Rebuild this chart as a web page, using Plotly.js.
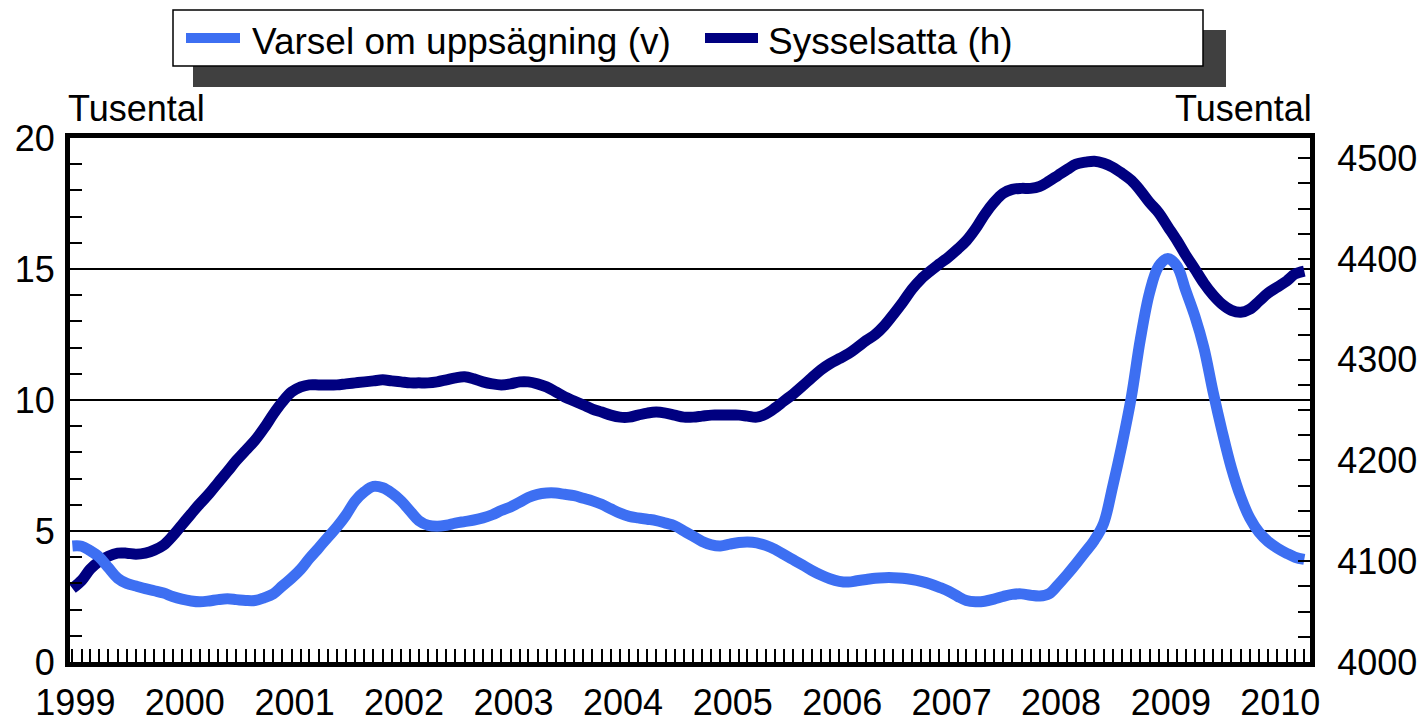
<!DOCTYPE html>
<html>
<head>
<meta charset="utf-8">
<script src="https://cdn.plot.ly/plotly-3.0.1.min.js"></script>
<style>html,body{margin:0;padding:0;background:#fff;}#chart{width:1426px;height:725px;}</style>
</head>
<body>
<div id="chart"></div>
<script>
// ---- data (monthly, Jan 1999 - Apr 2010) ----
const startYear = 1999;
const startMonth = 1;
const seriesNames = ["Varsel om uppsägning (v)", "Sysselsatta (h)"];
const yearLabels = ["1999","2000","2001","2002","2003","2004","2005","2006","2007","2008","2009","2010"];
// Varsel om uppsägning, tusental (left axis)
const varsel = [
 4.43,4.42,4.25,4.0,3.6,3.2,3.0,2.9,2.8,2.72,2.63,2.5,
 2.4,2.33,2.3,2.33,2.38,2.41,2.38,2.35,2.35,2.45,2.6,2.9,
 3.2,3.55,3.95,4.35,4.75,5.15,5.6,6.15,6.5,6.7,6.65,6.45,
 6.15,5.75,5.4,5.22,5.18,5.22,5.3,5.36,5.42,5.5,5.62,5.78,
 5.92,6.1,6.28,6.4,6.45,6.45,6.4,6.35,6.25,6.15,6.02,5.85,
 5.68,5.56,5.5,5.45,5.4,5.3,5.2,5.0,4.8,4.6,4.47,4.43,
 4.5,4.56,4.58,4.55,4.45,4.3,4.1,3.9,3.7,3.5,3.32,3.18,
 3.08,3.05,3.1,3.15,3.2,3.22,3.22,3.2,3.15,3.08,2.98,2.85,
 2.7,2.5,2.35,2.3,2.32,2.4,2.5,2.58,2.6,2.55,2.52,2.6,
 2.95,3.35,3.75,4.2,4.65,5.3,6.7,8.3,10.1,12.3,14.1,15.1,
 15.4,15.1,14.2,13.2,12.0,10.3,8.8,7.4,6.3,5.5,4.95,4.6,
 4.35,4.15,4.0,3.92
];
// Sysselsatta, tusental (right axis)
const sysselsatta = [
 4073,4081,4092,4100,4105,4108,4108,4107,4108,4111,4116,4125,
 4136,4147,4157,4167,4178,4189,4200,4210,4220,4232,4246,4258,
 4268,4273,4275,4275,4275,4275,4276,4277,4278,4279,4280,4279,
 4278,4277,4277,4277,4278,4280,4282,4283,4281,4278,4276,4275,
 4276,4278,4278,4276,4273,4268,4263,4259,4255,4251,4248,4245,
 4243,4243,4245,4247,4248,4247,4245,4243,4243,4244,4245,4245,
 4245,4245,4244,4243,4246,4252,4259,4266,4274,4282,4290,4296,
 4301,4306,4312,4319,4325,4334,4345,4357,4370,4380,4388,4395,
 4402,4410,4418,4430,4444,4456,4465,4469,4470,4470,4472,4477,
 4483,4489,4494,4496,4497,4495,4491,4485,4478,4468,4456,4446,
 4432,4418,4404,4390,4376,4364,4355,4349,4347,4350,4358,4366,
 4372,4378,4385,4388
];

// monthly dates
const months = [];
for (let i = 0; i < varsel.length; i++) {
  const m0 = startMonth - 1 + i;
  const y = startYear + Math.floor(m0 / 12);
  const m = (m0 % 12) + 1;
  months.push(y + "-" + String(m).padStart(2, "0") + "-01");
}
const yearTicks = yearLabels.map(y => y + "-01-01");

const LIGHT = "#3d6ff2";
const DARK = "#000080";
const FONT = "Arial, 'Liberation Sans', sans-serif";

// pixel -> paper helpers (layout only)
const L = 70, R = 116, T = 138, B = 63, W = 1426, H = 725;
const PW = W - L - R, PH = H - T - B;
const px = x => (x - L) / PW;
const py = y => (H - B - y) / PH;

const traces = [
  {
    x: months, y: sysselsatta, name: seriesNames[1], type: "scatter", mode: "lines",
    yaxis: "y", line: {color: DARK, width: 11, shape: "spline", smoothing: 1},
    showlegend: false, hoverinfo: "x+y"
  },
  {
    x: months, y: varsel, name: seriesNames[0], type: "scatter", mode: "lines",
    yaxis: "y2", line: {color: LIGHT, width: 11, shape: "spline", smoothing: 1},
    showlegend: false, hoverinfo: "x+y"
  }
];

const tickFont = {family: FONT, size: 36, color: "#000"};

const layout = {
  width: W, height: H,
  margin: {l: L, r: R, t: T, b: B, pad: 0},
  paper_bgcolor: "#fff", plot_bgcolor: "#fff",
  showlegend: false,
  font: {family: FONT, color: "#000"},
  xaxis: {
    type: "date",
    range: ["1998-12-24", "2010-04-20"],
    tickmode: "array", tickvals: yearTicks, ticktext: yearLabels,
    ticks: "inside", ticklen: 13, tickwidth: 2, tickcolor: "#000",
    minor: {dtick: "M1", tick0: "1999-01-01", ticks: "inside", ticklen: 13, tickwidth: 2, tickcolor: "#000", showgrid: false},
    showline: true, linewidth: 5, linecolor: "#000", mirror: true,
    showgrid: false, zeroline: false,
    tickfont: tickFont, ticklabelstandoff: 5, ticklabelshift: 3
  },
  yaxis: {
    side: "right",
    range: [4000, 4520],
    tick0: 4000, dtick: 100,
    ticks: "inside", ticklen: 12, tickwidth: 2, tickcolor: "#000",
    minor: {dtick: 25, tick0: 4000, ticks: "inside", ticklen: 12, tickwidth: 2, tickcolor: "#000", showgrid: false},
    showline: true, linewidth: 5, linecolor: "#000",
    showgrid: false, zeroline: false,
    tickfont: tickFont, ticklabelstandoff: 15
  },
  yaxis2: {
    overlaying: "y", side: "left",
    range: [0, 20],
    tick0: 0, dtick: 5,
    ticks: "inside", ticklen: 12, tickwidth: 2, tickcolor: "#000",
    minor: {dtick: 1, tick0: 0, ticks: "inside", ticklen: 12, tickwidth: 2, tickcolor: "#000", showgrid: false},
    showline: true, linewidth: 5, linecolor: "#000",
    showgrid: true, gridcolor: "#000", gridwidth: 2, zeroline: false,
    tickfont: tickFont, ticklabelstandoff: 3
  },
  shapes: [
    // legend shadow
    {type: "rect", xref: "paper", yref: "paper", x0: px(193), x1: px(1226), y0: py(30), y1: py(87),
     fillcolor: "#404040", line: {width: 0}, layer: "above"},
    // legend box
    {type: "rect", xref: "paper", yref: "paper", x0: px(173), x1: px(1203), y0: py(10), y1: py(66),
     fillcolor: "#fff", line: {color: "#000", width: 1.5}, layer: "above"},
    // legend samples
    {type: "line", xref: "paper", yref: "paper", x0: px(186), x1: px(240), y0: py(38), y1: py(38),
     line: {color: LIGHT, width: 10}, layer: "above"},
    {type: "line", xref: "paper", yref: "paper", x0: px(705), x1: px(758), y0: py(38), y1: py(38),
     line: {color: DARK, width: 10}, layer: "above"}
  ],
  annotations: [
    {text: seriesNames[0], xref: "paper", yref: "paper", x: px(250), y: py(42), xanchor: "left", yanchor: "middle",
     showarrow: false, font: {family: FONT, size: 37, color: "#000"}},
    {text: seriesNames[1], xref: "paper", yref: "paper", x: px(766), y: py(42), xanchor: "left", yanchor: "middle",
     showarrow: false, font: {family: FONT, size: 37, color: "#000"}},
    {text: "Tusental", xref: "paper", yref: "paper", x: px(66), y: py(109), xanchor: "left", yanchor: "middle",
     showarrow: false, font: {family: FONT, size: 36, color: "#000"}},
    {text: "Tusental", xref: "paper", yref: "paper", x: px(1314), y: py(109), xanchor: "right", yanchor: "middle",
     showarrow: false, font: {family: FONT, size: 36, color: "#000"}}
  ]
};

Plotly.newPlot("chart", traces, layout, {displayModeBar: false, staticPlot: true});
</script>
</body>
</html>
